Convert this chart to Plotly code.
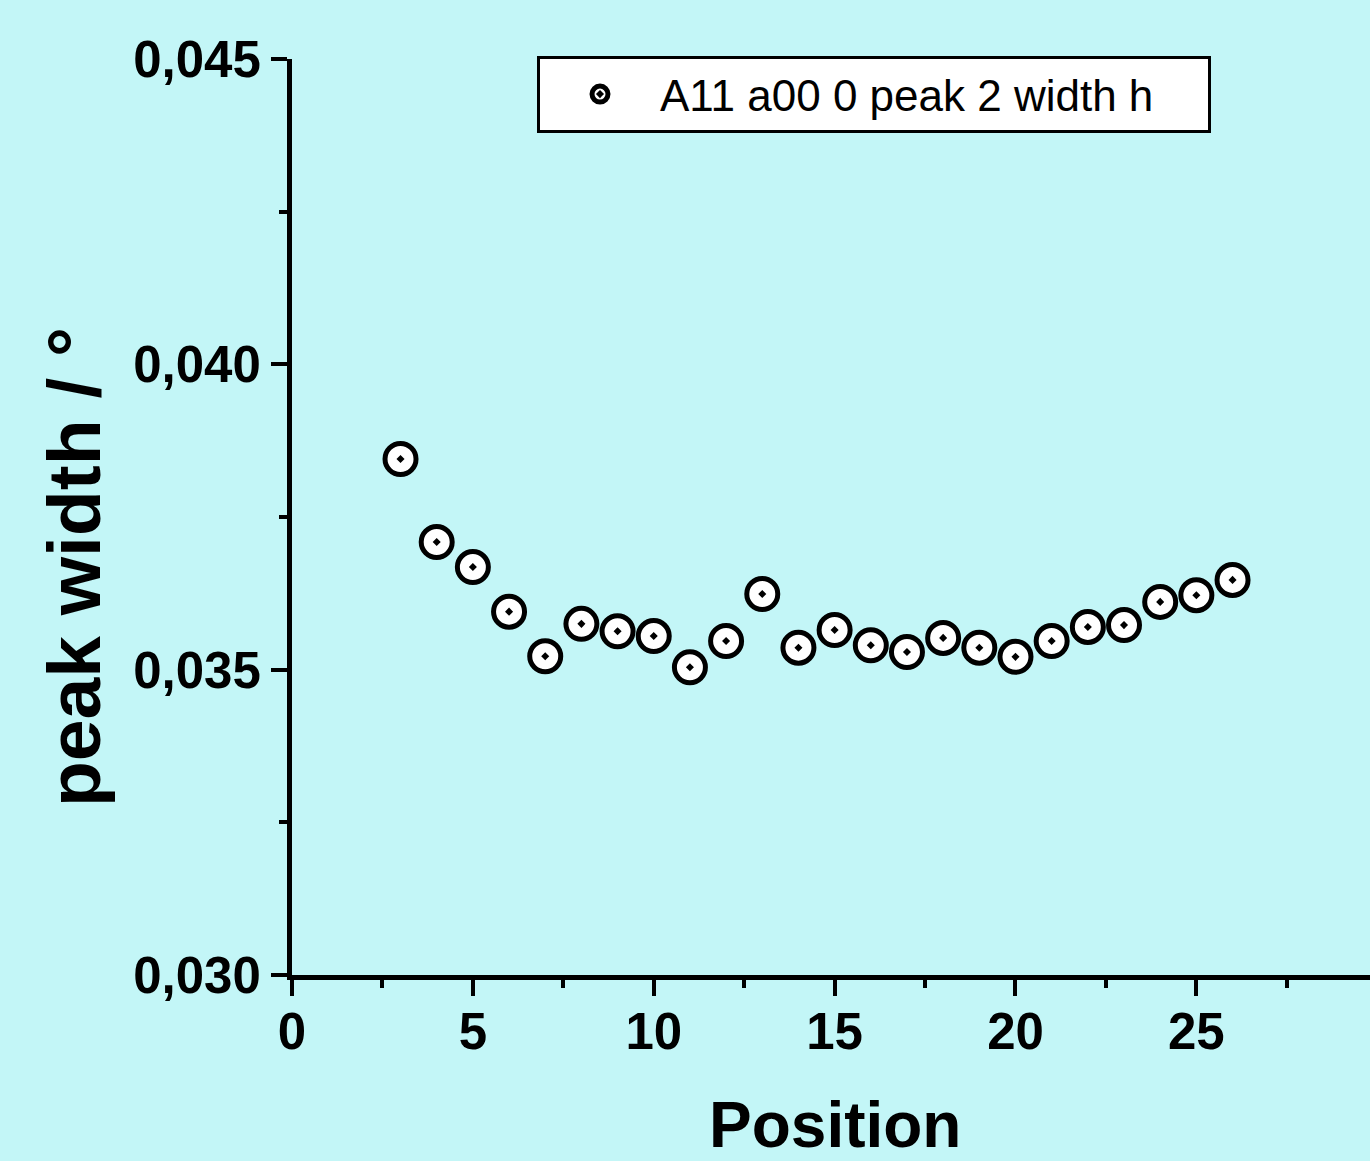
import plotly.graph_objects as go

positions = [3, 4, 5, 6, 7, 8, 9, 10, 11, 12, 13, 14, 15, 16, 17, 18, 19, 20, 21, 22, 23, 24, 25, 26]
peak_width = [0.03845, 0.03709, 0.03668, 0.03595, 0.03522, 0.03575, 0.03563, 0.03555,
              0.03504, 0.03547, 0.03624, 0.03536, 0.03565, 0.03540, 0.03529, 0.03552,
              0.03536, 0.03521, 0.03547, 0.03570, 0.03573, 0.03611, 0.03622, 0.03647]
series_name = "A11 a00 0 peak 2 width h"
x_ticks = [0, 5, 10, 15, 20, 25, 30]
y_ticks = [0.030, 0.035, 0.040, 0.045]

BG = "#C3F6F7"
NARROW = "Liberation Sans Narrow, Arial Narrow, Liberation Sans, sans-serif"
SANS = "Liberation Sans, Arial, sans-serif"

fig = go.Figure()
fig.add_trace(go.Scatter(
    x=positions, y=peak_width, mode="markers",
    name=series_name + "\u00a0" * 4,
    marker=dict(symbol="circle-dot", size=31, color="white",
                line=dict(color="black", width=5)),
))

axis_common = dict(
    showgrid=False, zeroline=False, showline=True, linecolor="black", linewidth=5,
    ticks="outside", ticklen=16, tickwidth=4, tickcolor="black",
    tickfont=dict(family=NARROW, size=51, color="black", weight="bold"),
)

fig.update_layout(
    width=1370, height=1161,
    margin=dict(l=292, r=0, t=59, b=186),
    paper_bgcolor=BG, plot_bgcolor=BG,
    separators=",.",
    showlegend=True,
    legend=dict(
        x=(537 - 292) / 1078, y=1 + (59 - 56) / 916, xanchor="left", yanchor="top",
        bgcolor="white", bordercolor="black", borderwidth=3,
        font=dict(family=NARROW, size=44, color="black"),
        itemwidth=110,
    ),
    xaxis=dict(
        range=[0, 29.8], tickvals=x_ticks, ticklabelstandoff=-8,
        minor=dict(ticks="outside", ticklen=8, tickwidth=4, tickcolor="black", dtick=2.5, tick0=0),
        **axis_common,
    ),
    yaxis=dict(
        range=[0.030, 0.045], tickvals=y_ticks, tickformat=".3f",
        minor=dict(ticks="outside", ticklen=8, tickwidth=4, tickcolor="black", dtick=0.0025, tick0=0.030),
        **axis_common,
    ),
    annotations=[
        dict(text="peak width / °", textangle=-90, xref="paper", yref="paper",
             x=(74 - 292) / 1078, y=(975 - 567) / 916, xanchor="center", yanchor="middle",
             showarrow=False, font=dict(family=SANS, size=75, color="black", weight="bold")),
        dict(text="Position", xref="paper", yref="paper",
             x=(835 - 292) / 1078, y=-(1125 - 975) / 916, xanchor="center", yanchor="middle",
             showarrow=False, font=dict(family=SANS, size=64, color="black", weight="bold")),
    ],
)

fig.write_html("out.html")
